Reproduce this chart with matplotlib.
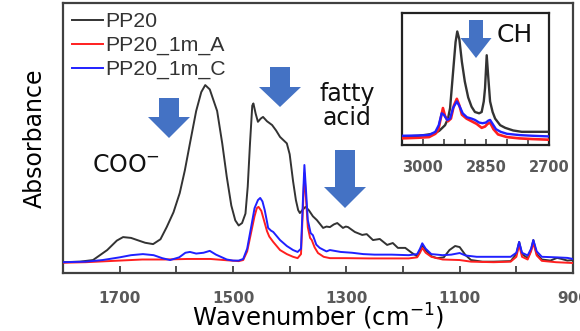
import numpy as np
import matplotlib
matplotlib.use("Agg")
import matplotlib.pyplot as plt
from matplotlib.patches import Polygon

# ---- spectra: main window (1800-900 cm-1) ----
pp20_wn = [1800, 1770, 1747, 1722, 1705, 1694, 1680, 1669, 1655, 1641, 1628, 1617,
           1605, 1594, 1585, 1576, 1565, 1556, 1549, 1541, 1528, 1519, 1511, 1503,
           1496, 1490, 1484, 1478, 1474, 1470, 1466, 1464, 1460, 1456, 1451, 1447,
           1440, 1431, 1424, 1417, 1410, 1405, 1400, 1394, 1389, 1385, 1382, 1378,
           1372, 1366, 1359, 1352, 1341, 1335, 1329, 1322, 1316, 1306, 1301, 1297,
           1285, 1272, 1264, 1253, 1241, 1228, 1218, 1209, 1196, 1184, 1175, 1170,
           1166, 1160, 1150, 1140, 1128, 1118, 1108, 1100, 1090, 1080, 1060, 1040,
           1010, 1000, 995, 990, 980, 974, 970, 964, 955, 940, 928, 920, 910, 900]
pp20_abs = [0.040, 0.042, 0.048, 0.085, 0.120, 0.133, 0.130, 0.122, 0.112, 0.107, 0.125, 0.170,
            0.225, 0.296, 0.380, 0.480, 0.600, 0.670, 0.696, 0.680, 0.600, 0.480, 0.356, 0.250,
            0.195, 0.176, 0.185, 0.220, 0.320, 0.480, 0.620, 0.628, 0.590, 0.560, 0.572, 0.578,
            0.562, 0.548, 0.528, 0.504, 0.490, 0.480, 0.440, 0.340, 0.270, 0.233, 0.222, 0.232,
            0.245, 0.232, 0.210, 0.196, 0.167, 0.172, 0.170, 0.180, 0.185, 0.167, 0.172, 0.170,
            0.152, 0.141, 0.144, 0.122, 0.126, 0.104, 0.111, 0.093, 0.093, 0.074, 0.062, 0.080,
            0.104, 0.085, 0.062, 0.055, 0.058, 0.085, 0.100, 0.096, 0.067, 0.048, 0.042, 0.042,
            0.044, 0.070, 0.115, 0.070, 0.055, 0.085, 0.122, 0.070, 0.050, 0.046, 0.056, 0.052,
            0.046, 0.048]

pp20a_wn = [1800, 1760, 1730, 1700, 1660, 1620, 1580, 1540, 1510, 1490, 1482, 1475,
            1468, 1462, 1458, 1455, 1450, 1446, 1440, 1436, 1429, 1417, 1405, 1394,
            1386, 1380, 1377, 1374, 1371, 1368, 1364, 1361, 1356, 1350, 1340, 1329,
            1300, 1260, 1220, 1190, 1175, 1170, 1166, 1160, 1150, 1130, 1100, 1080,
            1040, 1010, 1000, 995, 990, 980, 974, 970, 964, 955, 930, 910, 900]
pp20a_abs = [0.038, 0.040, 0.043, 0.046, 0.050, 0.050, 0.052, 0.052, 0.047, 0.044, 0.048, 0.080,
             0.150, 0.210, 0.240, 0.245, 0.230, 0.200, 0.155, 0.135, 0.115, 0.085, 0.070, 0.060,
             0.055, 0.070, 0.220, 0.370, 0.270, 0.170, 0.130, 0.122, 0.095, 0.074, 0.060, 0.055,
             0.055, 0.054, 0.054, 0.054, 0.058, 0.075, 0.093, 0.075, 0.060, 0.050, 0.048, 0.042,
             0.040, 0.042, 0.060, 0.104, 0.060, 0.050, 0.080, 0.111, 0.065, 0.045, 0.040, 0.038,
             0.037]

pp20c_wn = [1800, 1760, 1730, 1700, 1680, 1659, 1640, 1625, 1611, 1595, 1584, 1576,
            1565, 1552, 1541, 1530, 1511, 1500, 1490, 1482, 1475, 1468, 1462, 1456,
            1452, 1448, 1444, 1440, 1438, 1433, 1429, 1417, 1405, 1394, 1386, 1380,
            1377, 1374, 1371, 1368, 1363, 1359, 1353, 1347, 1335, 1329, 1310, 1290,
            1270, 1250, 1220, 1190, 1175, 1170, 1166, 1160, 1150, 1130, 1115, 1100,
            1090, 1070, 1040, 1010, 1000, 995, 990, 980, 974, 970, 964, 955, 930,
            910, 900]
pp20c_abs = [0.040, 0.042, 0.048, 0.058, 0.066, 0.070, 0.066, 0.055, 0.048, 0.058, 0.075, 0.078,
             0.072, 0.075, 0.082, 0.068, 0.050, 0.046, 0.046, 0.052, 0.090, 0.170, 0.240, 0.270,
             0.278, 0.265, 0.233, 0.190, 0.167, 0.157, 0.152, 0.122, 0.100, 0.085, 0.078, 0.090,
             0.250, 0.400, 0.300, 0.196, 0.148, 0.140, 0.105, 0.093, 0.080, 0.085, 0.078, 0.075,
             0.070, 0.068, 0.068, 0.066, 0.070, 0.090, 0.110, 0.090, 0.070, 0.066, 0.068, 0.074,
             0.065, 0.060, 0.060, 0.060, 0.075, 0.115, 0.075, 0.065, 0.090, 0.122, 0.080, 0.060,
             0.058, 0.056, 0.052]

# ---- spectra: C-H stretching window (3050-2700 cm-1) ----
ch_pp20_wn = [3050, 3010, 2990, 2971, 2960, 2947, 2940, 2935, 2928, 2922, 2918, 2913,
              2907, 2900, 2892, 2884, 2876, 2866, 2860, 2855, 2852, 2848, 2844, 2840,
              2834, 2828, 2816, 2804, 2785, 2765, 2730, 2700]
ch_pp20_abs = [0.063, 0.070, 0.078, 0.088, 0.110, 0.150, 0.200, 0.280, 0.550, 0.780, 0.860, 0.800,
               0.630, 0.480, 0.360, 0.290, 0.250, 0.240, 0.250, 0.330, 0.430, 0.680, 0.500, 0.330,
               0.250, 0.200, 0.150, 0.130, 0.110, 0.100, 0.100, 0.100]

ch_pp20a_wn = [3050, 3010, 2985, 2970, 2963, 2956, 2952, 2947, 2940, 2933, 2926, 2919,
               2913, 2907, 2896, 2884, 2872, 2860, 2852, 2846, 2840, 2832, 2821, 2800,
               2770, 2740, 2700]
ch_pp20a_abs = [0.050, 0.055, 0.060, 0.085, 0.115, 0.220, 0.280, 0.220, 0.180, 0.200, 0.300, 0.350,
                0.300, 0.230, 0.200, 0.180, 0.160, 0.130, 0.140, 0.160, 0.170, 0.120, 0.080, 0.060,
                0.050, 0.045, 0.040]

ch_pp20c_wn = [3050, 3010, 2985, 2970, 2962, 2955, 2950, 2942, 2935, 2928, 2919, 2912,
               2905, 2895, 2884, 2876, 2866, 2858, 2850, 2844, 2840, 2834, 2826, 2815,
               2800, 2770, 2740, 2700]
ch_pp20c_abs = [0.070, 0.072, 0.076, 0.100, 0.150, 0.240, 0.230, 0.190, 0.200, 0.280, 0.330, 0.290,
                0.240, 0.210, 0.200, 0.190, 0.170, 0.165, 0.170, 0.185, 0.190, 0.160, 0.120, 0.100,
                0.085, 0.075, 0.070, 0.065]

series_labels = ["PP20", "PP20_1m_A", "PP20_1m_C"]
series_colors = ["#333333", "#ff1f1f", "#2020ff"]

main_ticks = [1700, 1500, 1300, 1100, 900]
inset_ticks = [3000, 2850, 2700]

ARROW_BLUE = "#4472C4"
TICK_GRAY = "#595959"
FRAME = "#404040"

fig = plt.figure(figsize=(5.8, 3.31), dpi=100)
ax = fig.add_axes([63 / 580, 1 - 273 / 331, 510 / 580, 270 / 331])

ax.plot(pp20_wn, pp20_abs, color=series_colors[0], lw=1.4, label=series_labels[0], zorder=3)
ax.plot(pp20a_wn, pp20a_abs, color=series_colors[1], lw=1.4, label=series_labels[1], zorder=4)
ax.plot(pp20c_wn, pp20c_abs, color=series_colors[2], lw=1.4, label=series_labels[2], zorder=5)

ax.set_xlim(1800, 900)
ax.set_ylim(0, 1)
ax.set_yticks([])
ax.set_xticks(main_ticks)
ax.set_xticks(np.arange(900, 1800, 100), minor=True)
ax.tick_params(axis="x", which="both", direction="in", length=5, width=1.3,
               color=FRAME, pad=13, labelsize=11, labelcolor=TICK_GRAY)
for lbl in ax.get_xticklabels():
    lbl.set_fontweight("bold")
for sp in ax.spines.values():
    sp.set_color(FRAME)
    sp.set_linewidth(1.6)

ax.set_xlabel("Wavenumber (cm$^{-1}$)", fontsize=17.5, labelpad=-3)
ax.set_ylabel("Absorbance", fontsize=17, labelpad=12)

leg = ax.legend(loc="upper left", bbox_to_anchor=(0.018, 0.965), frameon=False,
                handlelength=1.45, handletextpad=0.1, labelspacing=0.22,
                borderpad=0, borderaxespad=0,
                prop={"family": "Liberation Sans", "size": 15.3})
for t in leg.get_texts():
    t.set_color("#333333")


def block_arrow(axes, xc, y_top, y_base, y_tip, half_shaft, half_head, sx, sy):
    """Downward block arrow in axes fraction; widths given in pixels scaled by sx."""
    pts = [(xc - half_shaft * sx, y_top), (xc + half_shaft * sx, y_top),
           (xc + half_shaft * sx, y_base), (xc + half_head * sx, y_base),
           (xc, y_tip), (xc - half_head * sx, y_base),
           (xc - half_shaft * sx, y_base)]
    axes.add_patch(Polygon(pts, closed=True, transform=axes.transAxes,
                           facecolor=ARROW_BLUE, edgecolor="none", zorder=6))


def fx(px):
    return (px - 63) / 510


def fy(py):
    return (273 - py) / 270


block_arrow(ax, fx(169), fy(98), fy(117), fy(138), 10, 21, 1 / 510, 1 / 270)
block_arrow(ax, fx(280), fy(67), fy(87), fy(107), 10, 21, 1 / 510, 1 / 270)
block_arrow(ax, fx(345), fy(150), fy(187), fy(208), 10, 21, 1 / 510, 1 / 270)

ax.text(fx(126), fy(165), "COO$^{-}$", fontsize=17, ha="center", va="center",
        color="#111111", transform=ax.transAxes)
ax.text(fx(347), fy(106), "fatty\nacid", fontsize=17, ha="center", va="center",
        linespacing=1.05, color="#111111", transform=ax.transAxes)

# ---- inset: C-H stretching region ----
ins = fig.add_axes([401.7 / 580, 1 - 145 / 331, 147.3 / 580, 132 / 331])
ins.plot(ch_pp20_wn, ch_pp20_abs, color=series_colors[0], lw=1.7, zorder=3)
ins.plot(ch_pp20a_wn, ch_pp20a_abs, color=series_colors[1], lw=1.9, zorder=4)
ins.plot(ch_pp20c_wn, ch_pp20c_abs, color=series_colors[2], lw=1.7, zorder=5)
ins.set_xlim(3050, 2700)
ins.set_ylim(0, 1)
ins.set_yticks([])
ins.set_xticks(inset_ticks)
ins.set_xticks(np.arange(2700, 3050, 50), minor=True)
ins.tick_params(axis="x", which="both", direction="in", length=4, width=1.2,
                color=FRAME, pad=11, labelsize=10.5, labelcolor=TICK_GRAY)
for lbl in ins.get_xticklabels():
    lbl.set_fontweight("bold")
for sp in ins.spines.values():
    sp.set_color("#222222")
    sp.set_linewidth(1.6)

block_arrow(ins, (476 - 401.7) / 147.3, (145 - 20) / 132, (145 - 38) / 132, (145 - 58) / 132,
            7, 15.5, 1 / 147.3, 1 / 132)
ins.text((515 - 401.7) / 147.3, (145 - 35) / 132, "CH", fontsize=18,
         ha="center", va="center", color="#111111", transform=ins.transAxes)

fig.savefig("out.png", dpi=100)
